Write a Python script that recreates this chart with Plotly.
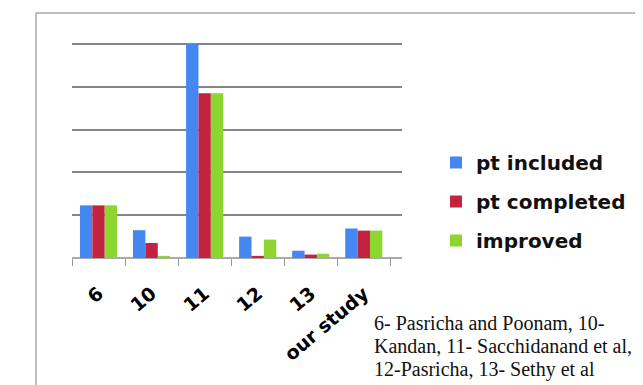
import plotly.graph_objects as go

categories = ["6", "10", "11", "12", "13", "our study"]
pt_included = [24.6, 13.0, 100.0, 10.0, 3.4, 13.8]
pt_completed = [24.6, 7.0, 77.0, 1.0, 1.6, 12.8]
improved = [24.6, 1.0, 77.0, 8.6, 2.0, 12.8]

series = [
    ("pt included", pt_included, "#4587f0"),
    ("pt completed", pt_completed, "#c4233f"),
    ("improved", improved, "#8dd630"),
]

footnote_lines = [
    "6- Pasricha and Poonam, 10-",
    "Kandan, 11- Sacchidanand et al,",
    "12-Pasricha, 13- Sethy et al",
]

fig = go.Figure()
for i, (name, vals, col) in enumerate(series):
    fig.add_trace(go.Bar(
        x=categories, y=vals, name=name, marker_color=col,
        marker_line_width=0, legendgroup=f"g{i}",
    ))

W, H = 643, 385
OFF = 8  # page body margin offset
L, R, T, B = 72 - OFF, 402 - OFF, 43 - OFF, 258 - OFF
pw, ph = R - L, B - T

def px2x(px):
    return (px - OFF - L) / pw

def py2y(py):
    return (B - (py - OFF)) / ph

fig.update_layout(
    width=W, height=H,
    margin=dict(l=L, r=W - R, t=T, b=H - B),
    paper_bgcolor="white", plot_bgcolor="white",
    barmode="group", bargap=0.3, bargroupgap=0,
    showlegend=True,
    legend=dict(
        x=px2x(436), y=py2y(143), xanchor="left", yanchor="top",
        traceorder="grouped", tracegroupgap=10, itemwidth=30,
        font=dict(family="DejaVu Sans", size=20, color="#111", weight="bold"),
        bgcolor="rgba(0,0,0,0)",
    ),
    xaxis=dict(
        type="category", range=[-0.5, 5.72],
        tickangle=-40, ticks="outside", ticklen=7, tickcolor="#999",
        tickson="boundaries", showgrid=False, showline=False,
        ticklabelstandoff=20,
        tickfont=dict(family="DejaVu Sans", size=19, color="black", weight="bold"),
    ),
    yaxis=dict(
        range=[0, 100.5], dtick=20, showticklabels=False,
        showgrid=True, gridcolor="#858585", gridwidth=1.5,
        zeroline=True, zerolinecolor="#aaaaaa", zerolinewidth=1.5,
        showline=False, ticks="",
    ),
    shapes=[dict(
        type="rect", xref="paper", yref="paper",
        x0=px2x(36), x1=px2x(720), y0=py2y(440), y1=py2y(13),
        line=dict(color="#aaaaaa", width=1.5), fillcolor="rgba(0,0,0,0)",
        layer="below",
    )],
)

for k, line in enumerate(footnote_lines):
    fig.add_annotation(
        text=line, xref="paper", yref="paper",
        x=px2x(372), y=py2y(323 + 23 * k), xanchor="left", yanchor="middle",
        showarrow=False, align="left",
        font=dict(family="Liberation Serif", size=20, color="#111"),
    )

fig.write_html("out.html")
